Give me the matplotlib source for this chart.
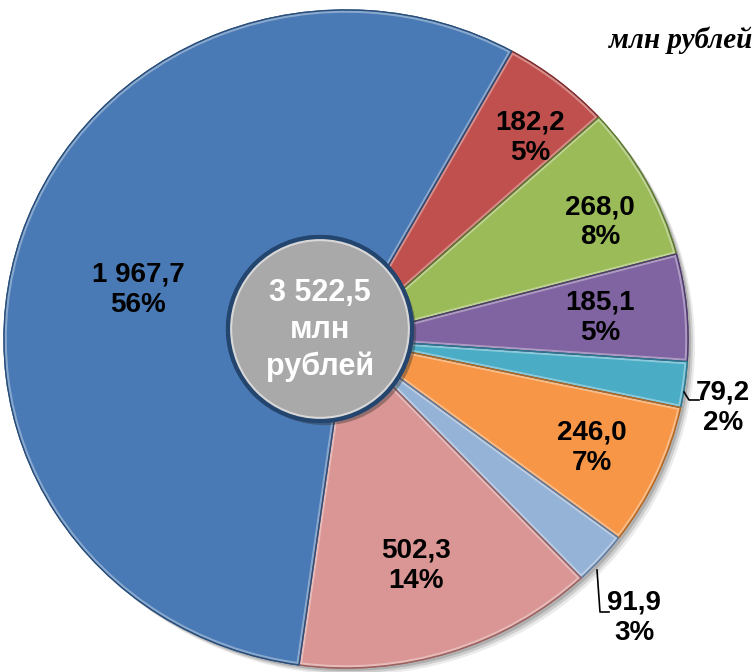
import matplotlib
matplotlib.use('Agg')
import matplotlib.pyplot as plt
import matplotlib.patheffects as pe
from matplotlib.patches import Wedge, Ellipse
from matplotlib.colors import to_rgb
import numpy as np

# data, clockwise from the top-right (red) slice
values = [182.2, 268.0, 185.1, 79.2, 246.0, 91.9, 502.3, 1967.7]
value_labels = ['182,2', '268,0', '185,1', '79,2', '246,0', '91,9', '502,3', '1 967,7']
pct_labels = ['5%', '8%', '5%', '2%', '7%', '3%', '14%', '56%']
total_label = '3 522,5\nмлн\nрублей'
units = 'млн рублей'

colors = ['#C0504D', '#9BBB59', '#8064A2', '#4BACC6', '#F79646', '#95B3D7', '#D99694', '#4A7AB5']
edges = ['#7E2F2D', '#5E7A30', '#4E3A6E', '#2A7890', '#B5661F', '#5E7BA3', '#9C605E', '#284E7C']

W, H = 756, 672
RX, RY = 342.0, 329.0   # pie is a bit wider than tall in the picture


def px(x, y):
    # picture pixel (y down) -> data coords
    return x / RX, (H - y) / RY


fig = plt.figure(figsize=(W / 100, H / 100), dpi=100)
ax = fig.add_axes([0, 0, 1, 1])

# soft shadow under the whole pie
for off, a in [(7, 0.08), (5, 0.12), (3, 0.15)]:
    ax.add_patch(Ellipse(px(346 + off, 339 + off), 2, 2, facecolor='k', alpha=a,
                         edgecolor='none', zorder=0))

wedges, _ = ax.pie(values, colors=colors, startangle=61, counterclock=False,
                   center=px(346, 339), radius=1, frame=True,
                   wedgeprops=dict(linewidth=1.0))
for w, c, ec in zip(wedges, colors, edges):
    w.set_edgecolor(ec)
    # bevel highlight on the inside of each slice
    light = tuple(0.5 * np.array(to_rgb(c)) + 0.5)
    hl = Wedge(w.center, w.r, w.theta1, w.theta2, facecolor='none', edgecolor=light,
               linewidth=4, alpha=0.7, zorder=w.get_zorder() + 0.1)
    ax.add_patch(hl)
    hl.set_clip_path(w)
    rim = Wedge(w.center, w.r, w.theta1, w.theta2, facecolor='none', edgecolor=ec,
                linewidth=1.0, zorder=w.get_zorder() + 0.2)
    ax.add_patch(rim)

ax.set_xlim(0, W / RX)
ax.set_ylim(0, H / RY)
ax.set_aspect('auto')
ax.axis('off')

# centre disc
dc = px(320, 329)
dw, dh = 2 * 92 / RX, 2 * 92 / RY
disc = Ellipse(dc, dw, dh, facecolor='#A9A9A9', edgecolor='#24456E', linewidth=3, zorder=5)
disc.set_path_effects([pe.SimplePatchShadow(offset=(3, -3), alpha=0.4), pe.Normal()])
ax.add_patch(disc)
disc_hl = Ellipse(dc, dw, dh, facecolor='none', edgecolor='#D8D8D8', linewidth=6, zorder=5.1)
ax.add_patch(disc_hl)
disc_hl.set_clip_path(disc)
ax.add_patch(Ellipse(dc, dw, dh, facecolor='none', edgecolor='#24456E', linewidth=3, zorder=5.2))

fam = ['Liberation Sans', 'DejaVu Sans']
ax.text(*px(320, 330), total_label, ha='center', va='center', color='white', fontsize=22,
        fontweight='bold', family=fam, linespacing=1.3, zorder=6)

# slice labels (picture positions)
label_pos = [(530, 138), (600, 222), (600, 318), (723, 408), (592, 448), (634, 618), (416, 566), (138, 290)]
for (x, y), v, p in zip(label_pos, value_labels, pct_labels):
    ax.text(*px(x, y), v + '\n' + p, ha='center', va='center', color='black', fontsize=20,
            fontweight='bold', family=fam, linespacing=1.2, zorder=6)

# leader lines for the small slices
l1 = [px(684, 392), px(689, 400), px(699, 400)]
l2 = [px(597, 570), px(600, 612), px(609, 612)]
for pts in (l1, l2):
    ax.plot([p[0] for p in pts], [p[1] for p in pts], color='black', lw=1.2, zorder=6)

ax.text(*px(752, 40), units, ha='right', va='center', fontsize=21, fontweight='bold',
        fontstyle='italic', family=['Liberation Serif', 'DejaVu Serif'])

fig.savefig('out.png', dpi=100)
